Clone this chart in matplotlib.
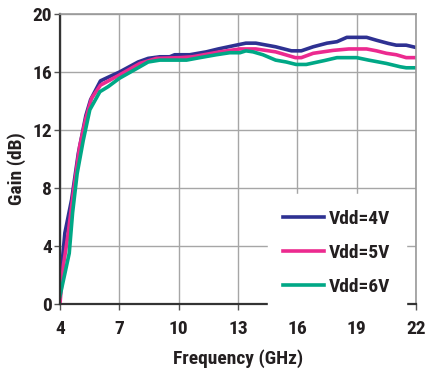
import matplotlib
matplotlib.use("Agg")
import matplotlib.pyplot as plt

# Gain vs frequency for three drain voltages
freq_4v = [4.0, 4.25, 4.59, 4.93, 5.31, 5.55, 6.05, 6.52, 7.0, 7.95, 8.46, 9.05, 9.55, 9.8,
           10.56, 11.4, 12.0, 12.9, 13.4, 13.9, 14.9, 15.7, 16.2, 16.8, 17.5, 18.0, 18.5,
           19.5, 20.0, 20.6, 21.0, 21.5, 22.0]
gain_4v = [1.2, 4.9, 7.2, 10.4, 13.0, 14.1, 15.4, 15.7, 16.0, 16.7, 16.95, 17.06, 17.06, 17.2,
           17.2, 17.4, 17.6, 17.86, 18.0, 18.0, 17.75, 17.47, 17.47, 17.75, 18.0, 18.1, 18.4,
           18.4, 18.2, 17.98, 17.86, 17.86, 17.7]

freq_5v = [4.0, 4.17, 4.42, 4.67, 5.0, 5.31, 5.6, 6.05, 7.0, 8.04, 8.88, 10.06, 10.7, 12.08,
           13.1, 13.9, 14.9, 15.9, 16.2, 16.8, 17.8, 18.6, 19.5, 20.0, 20.5, 21.0, 21.5, 22.0]
gain_5v = [0.0, 2.6, 4.9, 7.6, 10.9, 12.8, 14.2, 15.1, 15.8, 16.6, 16.95, 17.0, 17.06, 17.4,
           17.6, 17.6, 17.4, 17.0, 17.0, 17.3, 17.5, 17.6, 17.6, 17.47, 17.3, 17.2, 17.0, 17.0]

freq_6v = [4.0, 4.25, 4.47, 4.64, 4.87, 5.18, 5.51, 6.02, 6.44, 7.0, 8.04, 8.46, 9.05, 10.4,
           11.07, 11.9, 12.58, 13.1, 13.4, 13.76, 14.26, 14.9, 15.44, 15.94, 16.45, 17.37,
           18.0, 19.0, 19.6, 20.5, 21.2, 21.5, 22.0]
gain_6v = [0.53, 2.1, 3.5, 6.3, 9.0, 11.3, 13.4, 14.65, 15.0, 15.57, 16.37, 16.7, 16.83, 16.83,
           17.0, 17.2, 17.34, 17.34, 17.47, 17.4, 17.2, 16.83, 16.7, 16.53, 16.53, 16.8,
           17.0, 17.0, 16.83, 16.6, 16.37, 16.3, 16.3]

labels = ["Vdd=4V", "Vdd=5V", "Vdd=6V"]
colors = ["#2e3192", "#ec2a8f", "#00a886"]
xticks = [4, 7, 10, 13, 16, 19, 22]
yticks = [0, 4, 8, 12, 16, 20]

families = ["Liberation Sans Narrow", "Roboto Condensed", "Liberation Sans", "DejaVu Sans"]
ink = "#231f20"

fig = plt.figure(figsize=(4.25, 3.73), dpi=100)
ax = fig.add_axes([0.141, 0.185, 0.838, 0.777])

for f, g, lab, c in zip([freq_4v, freq_5v, freq_6v], [gain_4v, gain_5v, gain_6v], labels, colors):
    ax.plot(f, g, color=c, lw=2.6, label=lab, solid_joinstyle="round")

ax.set_xlim(4, 22)
ax.set_ylim(0, 20)
ax.set_xticks(xticks)
ax.set_yticks(yticks)
ax.grid(True, color="#a6a6a6", lw=1.0)
ax.set_axisbelow(True)

for side in ["top", "right"]:
    ax.spines[side].set_color("#999999")
    ax.spines[side].set_linewidth(1.2)
for side in ["left", "bottom"]:
    ax.spines[side].set_color("#333333")
    ax.spines[side].set_linewidth(1.6)

ax.tick_params(axis="both", direction="out", length=4, width=1, color="#555555")
ax.tick_params(axis="x", pad=7.5)
ax.tick_params(axis="y", pad=1.5)
for lbl in ax.get_xticklabels() + ax.get_yticklabels():
    lbl.set_fontfamily(families)
    lbl.set_fontweight("bold")
    lbl.set_fontsize(14)
    lbl.set_color(ink)

ax.set_xlabel("Frequency (GHz)", fontsize=14, color=ink,
              family=families, weight="bold")
ax.set_ylabel("Gain (dB)", fontsize=14, color=ink,
              family=families, weight="bold")
ax.xaxis.set_label_coords(0.5, -0.155)
ax.yaxis.set_label_coords(-0.095, 0.466)

leg = ax.legend(loc="lower right", frameon=True, fancybox=False, edgecolor="white",
                facecolor="white", framealpha=1.0, handlelength=2.1, handletextpad=0.25,
                labelspacing=0.82, borderpad=0.8, borderaxespad=0.0,
                bbox_to_anchor=(0.972, -0.025),
                prop={"family": families, "weight": "bold", "size": 14})
for t in leg.get_texts():
    t.set_color(ink)

fig.savefig("out.png", dpi=100, facecolor="white")
